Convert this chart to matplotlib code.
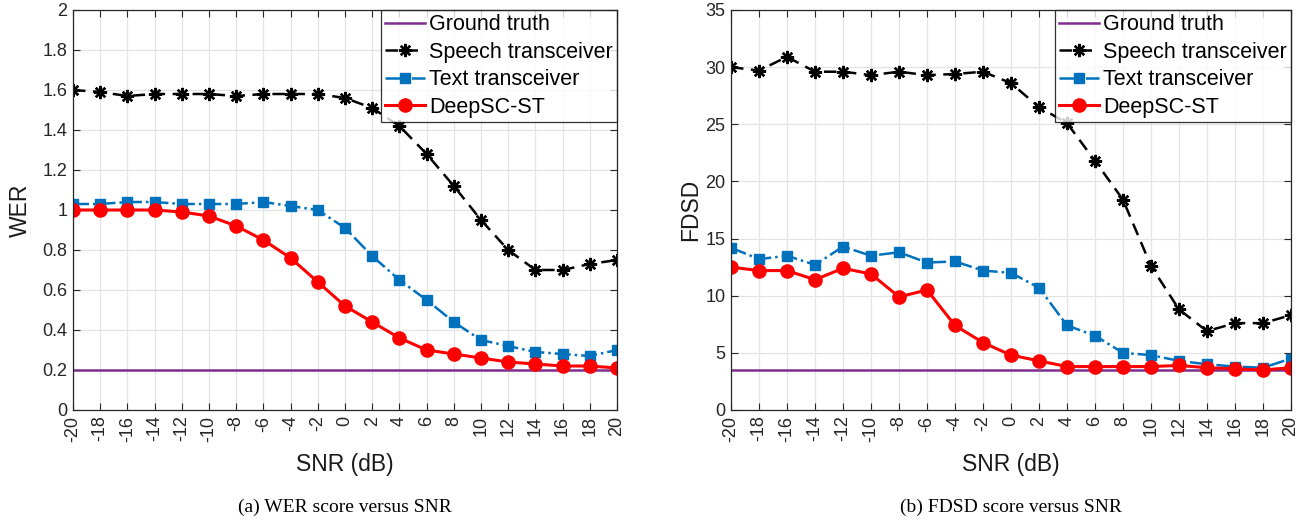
import matplotlib
matplotlib.use("Agg")
import matplotlib.pyplot as plt

snr = list(range(-20, 21, 2))
snr_labels = [str(v) for v in snr]

wer_ground = [0.2] * 21
wer_speech = [1.60, 1.59, 1.57, 1.58, 1.58, 1.58, 1.57, 1.58, 1.58, 1.58, 1.56,
              1.51, 1.42, 1.28, 1.12, 0.95, 0.80, 0.70, 0.70, 0.73, 0.75]
wer_text = [1.03, 1.03, 1.04, 1.04, 1.03, 1.03, 1.03, 1.04, 1.02, 1.00, 0.91,
            0.77, 0.65, 0.55, 0.44, 0.35, 0.32, 0.29, 0.28, 0.27, 0.30]
wer_deepsc = [1.00, 1.00, 1.00, 1.00, 0.99, 0.97, 0.92, 0.85, 0.76, 0.64, 0.52,
              0.44, 0.36, 0.30, 0.28, 0.26, 0.24, 0.23, 0.22, 0.22, 0.21]

fdsd_ground = [3.5] * 21
fdsd_speech = [30.0, 29.7, 30.9, 29.6, 29.6, 29.3, 29.6, 29.3, 29.4, 29.6, 28.6,
               26.5, 25.1, 21.8, 18.4, 12.6, 8.8, 6.9, 7.6, 7.6, 8.3]
fdsd_text = [14.2, 13.2, 13.5, 12.7, 14.3, 13.5, 13.8, 12.9, 13.0, 12.2, 12.0,
             10.7, 7.4, 6.5, 5.0, 4.8, 4.3, 4.0, 3.8, 3.7, 4.5]
fdsd_deepsc = [12.5, 12.2, 12.2, 11.4, 12.4, 11.9, 9.9, 10.5, 7.4, 5.9, 4.8,
               4.3, 3.8, 3.8, 3.8, 3.8, 3.9, 3.7, 3.6, 3.5, 3.7]

wer_yticks = [0, 0.2, 0.4, 0.6, 0.8, 1, 1.2, 1.4, 1.6, 1.8, 2]
wer_ylabels = ["0", "0.2", "0.4", "0.6", "0.8", "1", "1.2", "1.4", "1.6", "1.8", "2"]
fdsd_yticks = [0, 5, 10, 15, 20, 25, 30, 35]
fdsd_ylabels = ["0", "5", "10", "15", "20", "25", "30", "35"]

legend_labels = ["Ground truth", "Speech transceiver", "Text transceiver", "DeepSC-ST"]
captions = ["(a) WER score versus SNR", "(b) FDSD score versus SNR"]

plt.rcParams['font.family'] = ['Liberation Sans', 'DejaVu Sans']

W, H = 1309, 520
fig = plt.figure(figsize=(W / 100, H / 100), dpi=100)
ax1 = fig.add_axes([73 / W, 110 / H, 544 / W, 400 / H])
ax2 = fig.add_axes([731 / W, 110 / H, 560 / W, 400 / H])

purple = (0.494, 0.184, 0.556)
blue = (0.0, 0.447, 0.741)


def draw(ax, g, s, t, d, ylim, yticks, ylabels, ylabel, ylabel_x, caption):
    ax.plot(snr, g, '-', color=purple, lw=1.8, label=legend_labels[0], zorder=3)
    ax.plot(snr, s, '--', color='black', lw=1.8, marker=(8, 2, 0), ms=9.5,
            mew=1.7, label=legend_labels[1], dashes=(5, 3), zorder=4)
    ax.plot(snr, t, '-.', color=blue, lw=1.8, marker='s', ms=7.5,
            mfc=blue, mec=blue, label=legend_labels[2], zorder=4)
    ax.plot(snr, d, '-', color='red', lw=2.2, marker='o', ms=9.5,
            mfc='red', mec='red', label=legend_labels[3], zorder=5)
    ax.set_xlim(-20, 20)
    ax.set_ylim(*ylim)
    ax.set_xticks(snr)
    ax.set_xticklabels(snr_labels, rotation=90, fontsize=13)
    ax.set_yticks(yticks)
    ax.set_yticklabels(ylabels, fontsize=13)
    ax.grid(True, color='#e4e4e4', lw=0.9)
    ax.set_axisbelow(True)
    ax.tick_params(direction='in', top=True, right=True, length=5, width=0.8,
                   pad=4, colors='#262626')
    for sp in ax.spines.values():
        sp.set_color('#262626')
        sp.set_linewidth(0.9)
        sp.set_zorder(12)
    ax.set_xlabel("SNR (dB)", fontsize=16.5, va='center', color='#1a1a1a')
    ax.xaxis.set_label_coords(0.5, -55 / 400)
    ax.set_ylabel(ylabel, fontsize=16.5, va='center', color='#1a1a1a')
    ax.yaxis.set_label_coords(ylabel_x, 0.5)
    leg = ax.legend(loc='upper right', fontsize=15.5, frameon=True, fancybox=False,
                    edgecolor='black', borderpad=0.2, handlelength=1.85,
                    handletextpad=0.2, labelspacing=0.3, borderaxespad=0.0)
    leg.get_frame().set_linewidth(0.9)
    leg.set_zorder(10)
    ax.text(0.5, -97 / 400, caption, transform=ax.transAxes, ha='center',
            va='center', fontsize=14, family='Liberation Serif')


draw(ax1, wer_ground, wer_speech, wer_text, wer_deepsc, (0, 2), wer_yticks,
     wer_ylabels, "WER", (20 - 73) / 544, captions[0])
draw(ax2, fdsd_ground, fdsd_speech, fdsd_text, fdsd_deepsc, (0, 35), fdsd_yticks,
     fdsd_ylabels, "FDSD", (691 - 731) / 560, captions[1])

fig.savefig("out.png", dpi=100)
